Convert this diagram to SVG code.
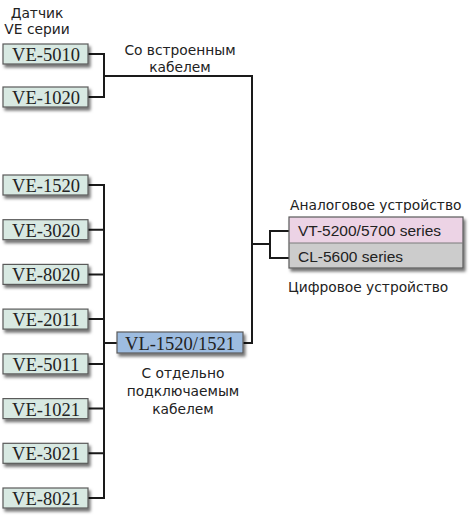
<svg xmlns="http://www.w3.org/2000/svg" width="472" height="522" viewBox="0 0 472 522">
<defs>
<filter id="sh" x="-10%" y="-20%" width="130%" height="170%">
<feDropShadow dx="2" dy="3" stdDeviation="1.6" flood-color="#000" flood-opacity="0.55"/>
</filter>
<style>
.ve{fill:#d8e9e2;stroke:#5a5a5a;stroke-width:1.2}
.vl{fill:#9dbce0;stroke:#5a5a5a;stroke-width:1.2}
.bt{font-family:"Liberation Serif",serif;font-size:18.5px;fill:#222;text-anchor:middle}
.dt{font-family:"Liberation Sans",Arial,sans-serif;font-size:15.5px;fill:#222}
.lb{font-family:"DejaVu Sans",sans-serif;font-size:13.8px;fill:#222}
.c{fill:none;stroke:#1a1a1a;stroke-width:2}
</style>
</defs>
<rect width="472" height="522" fill="#fff"/>
<text class="lb" x="37" y="18" text-anchor="middle">Датчик</text>
<text class="lb" x="37" y="34" text-anchor="middle">VE серии</text>
<text class="lb" x="180" y="55" text-anchor="middle">Со встроенным</text>
<text class="lb" x="180" y="72" text-anchor="middle">кабелем</text>
<text class="lb" x="290" y="210">Аналоговое устройство</text>
<text class="lb" x="288" y="292">Цифровое устройство</text>
<text class="lb" x="183" y="378" text-anchor="middle">С отдельно</text>
<text class="lb" x="183" y="396" text-anchor="middle">подключаемым</text>
<text class="lb" x="183" y="414" text-anchor="middle">кабелем</text>
<g id="connectors">
<path class="c" d="M88 54H104V97H88M104 76H252V343H243"/>
<path class="c" d="M88 185H104M88 229.7H104M88 274.4H104M88 319.1H104M88 363.9H104M88 408.6H104M88 453.3H104M88 498H104M104 184V499M104 343H117"/>
<path class="c" d="M252 244H270M289 231H270V258H289"/>
</g>
<g id="ve5010"><rect class="ve" x="3" y="44" width="85" height="20" filter="url(#sh)"/><text class="bt" x="46" y="61">VE-5010</text></g>
<g id="ve1020"><rect class="ve" x="3" y="87" width="85" height="20" filter="url(#sh)"/><text class="bt" x="46" y="104">VE-1020</text></g>
<g id="ve1520"><rect class="ve" x="3" y="175" width="85" height="20" filter="url(#sh)"/><text class="bt" x="46" y="192">VE-1520</text></g>
<g id="ve3020"><rect class="ve" x="3" y="219.7" width="85" height="20" filter="url(#sh)"/><text class="bt" x="46" y="236.7">VE-3020</text></g>
<g id="ve8020"><rect class="ve" x="3" y="264.4" width="85" height="20" filter="url(#sh)"/><text class="bt" x="46" y="281.4">VE-8020</text></g>
<g id="ve2011"><rect class="ve" x="3" y="309.1" width="85" height="20" filter="url(#sh)"/><text class="bt" x="46" y="326.1">VE-2011</text></g>
<g id="ve5011"><rect class="ve" x="3" y="353.9" width="85" height="20" filter="url(#sh)"/><text class="bt" x="46" y="370.9">VE-5011</text></g>
<g id="ve1021"><rect class="ve" x="3" y="398.6" width="85" height="20" filter="url(#sh)"/><text class="bt" x="46" y="415.6">VE-1021</text></g>
<g id="ve3021"><rect class="ve" x="3" y="443.3" width="85" height="20" filter="url(#sh)"/><text class="bt" x="46" y="460.3">VE-3021</text></g>
<g id="ve8021"><rect class="ve" x="3" y="488" width="85" height="20" filter="url(#sh)"/><text class="bt" x="46" y="505">VE-8021</text></g>
<g id="vl1520"><rect class="vl" x="117" y="332" width="126" height="21" filter="url(#sh)"/><text class="bt" x="180" y="349.5">VL-1520/1521</text></g>
<g id="devices">
<g filter="url(#sh)">
<rect x="289" y="217" width="174" height="26" fill="#ecd3e5"/>
<rect x="289" y="243" width="174" height="25" fill="#cccccc"/>
<rect x="289" y="217" width="174" height="51" fill="none" stroke="#5a5a5a" stroke-width="1.2"/>
<line x1="289" y1="243" x2="463" y2="243" stroke="#7a7a7a" stroke-width="1"/>
</g>
<text class="dt" x="298" y="236">VT-5200/5700 series</text>
<text class="dt" x="298" y="262">CL-5600 series</text>
</g>
</svg>
